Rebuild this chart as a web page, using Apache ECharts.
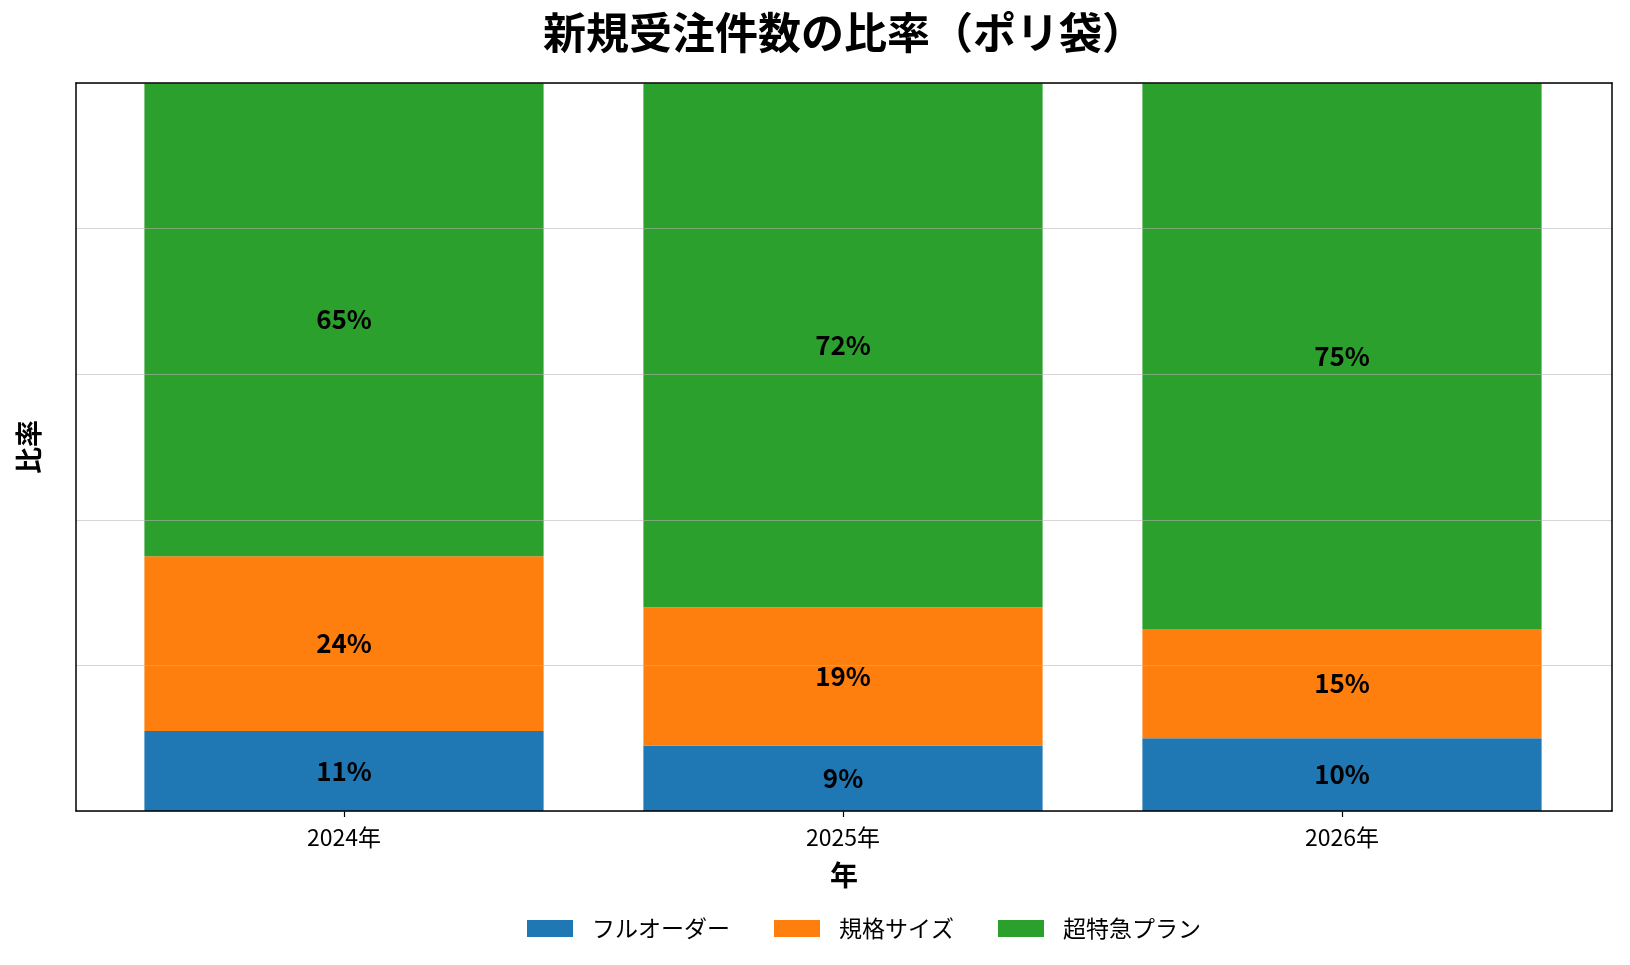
<!DOCTYPE html>
<html>
<head>
<meta charset="utf-8">
<script src="https://cdn.jsdelivr.net/npm/echarts@6/dist/echarts.min.js"></script>
<style>
  html, body { margin: 0; padding: 0; background: #fff; }
  #chart { width: 1630px; height: 965px; }
</style>
</head>
<body>
<div id="chart"></div>
<script>
// 年ごとの比率（%）
var years = ["2024年", "2025年", "2026年"];
var seriesNames = ["フルオーダー", "規格サイズ", "超特急プラン"];
var fullOrder = [11, 9, 10];
var standardSize = [24, 19, 15];
var express = [65, 72, 75];
var seriesColors = ["#1f77b4", "#ff7f0e", "#2ca02c"];

var FONT = "Noto Sans CJK JP";
var chart = echarts.init(document.getElementById("chart"));

function barSeries(name, data, color) {
  return {
    name: name,
    type: "bar",
    stack: "total",
    xAxisIndex: 2,
    yAxisIndex: 2,
    barWidth: "80%",
    itemStyle: { color: color },
    label: {
      show: true,
      position: "inside",
      formatter: "{c}%",
      color: "#000",
      fontFamily: FONT,
      fontWeight: "bold",
      fontSize: 26,
    },
    data: data,
  };
}

var frameLine = { show: true, onZero: false, lineStyle: { color: "#000", width: 1.5 } };

chart.setOption({
  animation: false,
  backgroundColor: "#fff",
  title: {
    text: "新規受注件数の比率（ポリ袋）",
    left: 839,
    top: 6,
    textAlign: "center",
    textStyle: { fontFamily: FONT, fontWeight: "bold", fontSize: 43, color: "#000" },
  },
  legend: {
    data: seriesNames,
    left: 522,
    top: 912,
    icon: "rect",
    itemWidth: 46,
    itemHeight: 17,
    itemGap: 44,
    textStyle: { fontFamily: FONT, fontSize: 23, color: "#000", padding: [0, 0, 0, 14] },
  },
  grid: [
    // 枠と目盛線用
    { left: 76, top: 83, width: 1536, height: 728 },
    // 棒グラフ用
    { left: 94.5, top: 83, width: 1497, height: 728 },
  ],
  xAxis: [
    {
      gridIndex: 0, type: "value", position: "bottom", min: 0, max: 1, z: 10,
      axisLine: frameLine, axisTick: { show: false }, axisLabel: { show: false }, splitLine: { show: false },
      name: "年", nameLocation: "middle", nameGap: 50,
      nameTextStyle: { fontFamily: FONT, fontWeight: "bold", fontSize: 28, color: "#000" },
    },
    {
      gridIndex: 0, type: "value", position: "top", min: 0, max: 1, z: 10,
      axisLine: frameLine, axisTick: { show: false }, axisLabel: { show: false }, splitLine: { show: false },
    },
    {
      gridIndex: 1, type: "category", data: years, position: "bottom",
      axisLine: { show: false },
      axisTick: { show: true, alignWithLabel: true, length: 6, lineStyle: { color: "#000", width: 1.2 } },
      axisLabel: { fontFamily: FONT, fontSize: 23, color: "#000", margin: 15 },
    },
  ],
  yAxis: [
    {
      gridIndex: 0, type: "value", min: 0, max: 100, interval: 20, position: "left", z: 10,
      axisLine: frameLine, axisTick: { show: false }, axisLabel: { show: false },
      splitLine: { show: true, lineStyle: { color: "rgba(180,180,180,0.55)", width: 1 } },
      name: "比率", nameLocation: "middle", nameRotate: 90, nameGap: 34,
      nameTextStyle: { fontFamily: FONT, fontWeight: "bold", fontSize: 27, color: "#000" },
    },
    {
      gridIndex: 0, type: "value", min: 0, max: 100, position: "right", z: 10,
      axisLine: frameLine, axisTick: { show: false }, axisLabel: { show: false }, splitLine: { show: false },
    },
    {
      gridIndex: 1, type: "value", min: 0, max: 100, show: false,
    },
  ],
  series: [
    barSeries(seriesNames[0], fullOrder, seriesColors[0]),
    barSeries(seriesNames[1], standardSize, seriesColors[1]),
    barSeries(seriesNames[2], express, seriesColors[2]),
  ],
});
</script>
</body>
</html>
